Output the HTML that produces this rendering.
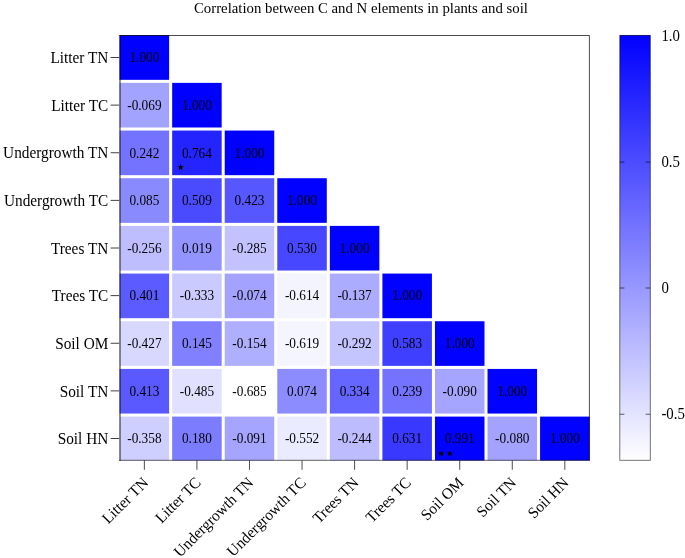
<!DOCTYPE html>
<html><head><meta charset="utf-8"><title>Correlation heatmap</title>
<style>
html,body{margin:0;padding:0;background:#fff;}
body{width:685px;height:558px;overflow:hidden;}
svg{display:block;will-change:transform;opacity:0.999;}
text{font-family:"Liberation Serif",serif;fill:#000;}
.c{font-size:14.3px;text-anchor:middle;}
.yl{font-size:15.75px;text-anchor:end;}
.xl{font-size:15.75px;text-anchor:end;}
.cb{font-size:15.7px;text-anchor:start;}
.t{font-size:15.5px;text-anchor:middle;}
</style></head><body>
<svg width="685" height="558" viewBox="0 0 685 558">
<defs><linearGradient id="g" x1="0" y1="0" x2="0" y2="1"><stop offset="0" stop-color="rgb(0,0,255)"/><stop offset="1" stop-color="rgb(255,255,255)"/></linearGradient></defs>
<rect x="0" y="0" width="685" height="558" fill="#fff"/>
<text class="t" transform="translate(360.9 12.8) scale(0.955 1)" x="0" y="0">Correlation between C and N elements in plants and soil</text>

<rect x="119.60" y="35.20" width="49.52" height="44.63" fill="rgb(0,0,255)"/>
<rect x="119.60" y="82.87" width="49.52" height="44.63" fill="rgb(162,162,255)"/>
<rect x="172.16" y="82.87" width="49.52" height="44.63" fill="rgb(0,0,255)"/>
<rect x="119.60" y="130.55" width="49.52" height="44.63" fill="rgb(115,115,255)"/>
<rect x="172.16" y="130.55" width="49.52" height="44.63" fill="rgb(36,36,255)"/>
<rect x="224.72" y="130.55" width="49.52" height="44.63" fill="rgb(0,0,255)"/>
<rect x="119.60" y="178.22" width="49.52" height="44.63" fill="rgb(138,138,255)"/>
<rect x="172.16" y="178.22" width="49.52" height="44.63" fill="rgb(74,74,255)"/>
<rect x="224.72" y="178.22" width="49.52" height="44.63" fill="rgb(87,87,255)"/>
<rect x="277.28" y="178.22" width="49.52" height="44.63" fill="rgb(0,0,255)"/>
<rect x="119.60" y="225.90" width="49.52" height="44.63" fill="rgb(190,190,255)"/>
<rect x="172.16" y="225.90" width="49.52" height="44.63" fill="rgb(148,148,255)"/>
<rect x="224.72" y="225.90" width="49.52" height="44.63" fill="rgb(194,194,255)"/>
<rect x="277.28" y="225.90" width="49.52" height="44.63" fill="rgb(71,71,255)"/>
<rect x="329.84" y="225.90" width="49.52" height="44.63" fill="rgb(0,0,255)"/>
<rect x="119.60" y="273.57" width="49.52" height="44.63" fill="rgb(91,91,255)"/>
<rect x="172.16" y="273.57" width="49.52" height="44.63" fill="rgb(202,202,255)"/>
<rect x="224.72" y="273.57" width="49.52" height="44.63" fill="rgb(163,163,255)"/>
<rect x="277.28" y="273.57" width="49.52" height="44.63" fill="rgb(244,244,255)"/>
<rect x="329.84" y="273.57" width="49.52" height="44.63" fill="rgb(172,172,255)"/>
<rect x="382.40" y="273.57" width="49.52" height="44.63" fill="rgb(0,0,255)"/>
<rect x="119.60" y="321.24" width="49.52" height="44.63" fill="rgb(216,216,255)"/>
<rect x="172.16" y="321.24" width="49.52" height="44.63" fill="rgb(129,129,255)"/>
<rect x="224.72" y="321.24" width="49.52" height="44.63" fill="rgb(175,175,255)"/>
<rect x="277.28" y="321.24" width="49.52" height="44.63" fill="rgb(245,245,255)"/>
<rect x="329.84" y="321.24" width="49.52" height="44.63" fill="rgb(196,196,255)"/>
<rect x="382.40" y="321.24" width="49.52" height="44.63" fill="rgb(63,63,255)"/>
<rect x="434.96" y="321.24" width="49.52" height="44.63" fill="rgb(0,0,255)"/>
<rect x="119.60" y="368.92" width="49.52" height="44.63" fill="rgb(89,89,255)"/>
<rect x="172.16" y="368.92" width="49.52" height="44.63" fill="rgb(225,225,255)"/>
<rect x="224.72" y="368.92" width="49.52" height="44.63" fill="rgb(255,255,255)"/>
<rect x="277.28" y="368.92" width="49.52" height="44.63" fill="rgb(140,140,255)"/>
<rect x="329.84" y="368.92" width="49.52" height="44.63" fill="rgb(101,101,255)"/>
<rect x="382.40" y="368.92" width="49.52" height="44.63" fill="rgb(115,115,255)"/>
<rect x="434.96" y="368.92" width="49.52" height="44.63" fill="rgb(165,165,255)"/>
<rect x="487.52" y="368.92" width="49.52" height="44.63" fill="rgb(0,0,255)"/>
<rect x="119.60" y="416.59" width="49.52" height="43.91" fill="rgb(206,206,255)"/>
<rect x="172.16" y="416.59" width="49.52" height="43.91" fill="rgb(124,124,255)"/>
<rect x="224.72" y="416.59" width="49.52" height="43.91" fill="rgb(165,165,255)"/>
<rect x="277.28" y="416.59" width="49.52" height="43.91" fill="rgb(235,235,255)"/>
<rect x="329.84" y="416.59" width="49.52" height="43.91" fill="rgb(188,188,255)"/>
<rect x="382.40" y="416.59" width="49.52" height="43.91" fill="rgb(56,56,255)"/>
<rect x="434.96" y="416.59" width="49.52" height="43.91" fill="rgb(1,1,255)"/>
<rect x="487.52" y="416.59" width="49.52" height="43.91" fill="rgb(163,163,255)"/>
<rect x="540.08" y="416.59" width="49.52" height="43.91" fill="rgb(0,0,255)"/>
<path d="M119.50 35.50 H589.40 V460.80" fill="none" stroke="#000" stroke-opacity="0.7" stroke-width="1"/>
<line x1="120.00" y1="35.00" x2="120.00" y2="460.80" stroke="#000" stroke-opacity="0.48" stroke-width="1.8"/>
<line x1="119.10" y1="460.30" x2="588.90" y2="460.30" stroke="#000" stroke-opacity="0.6" stroke-width="1"/>
<text class="c" transform="translate(144.36 62.30) scale(0.93 1)">1.000</text>
<text class="c" transform="translate(144.36 110.00) scale(0.93 1)">-0.069</text>
<text class="c" transform="translate(196.92 110.00) scale(0.93 1)">1.000</text>
<text class="c" transform="translate(144.36 158.00) scale(0.93 1)">0.242</text>
<text class="c" transform="translate(196.92 158.00) scale(0.93 1)">0.764</text>
<polygon points="180.60,163.90 181.42,166.27 183.93,166.32 181.93,167.83 182.66,170.23 180.60,168.80 178.54,170.23 179.27,167.83 177.27,166.32 179.78,166.27" fill="#000"/>
<text class="c" transform="translate(249.48 158.00) scale(0.93 1)">1.000</text>
<text class="c" transform="translate(144.36 205.40) scale(0.93 1)">0.085</text>
<text class="c" transform="translate(196.92 205.40) scale(0.93 1)">0.509</text>
<text class="c" transform="translate(249.48 205.40) scale(0.93 1)">0.423</text>
<text class="c" transform="translate(302.04 205.40) scale(0.93 1)">1.000</text>
<text class="c" transform="translate(144.36 253.00) scale(0.93 1)">-0.256</text>
<text class="c" transform="translate(196.92 253.00) scale(0.93 1)">0.019</text>
<text class="c" transform="translate(249.48 253.00) scale(0.93 1)">-0.285</text>
<text class="c" transform="translate(302.04 253.00) scale(0.93 1)">0.530</text>
<text class="c" transform="translate(354.60 253.00) scale(0.93 1)">1.000</text>
<text class="c" transform="translate(144.36 300.00) scale(0.93 1)">0.401</text>
<text class="c" transform="translate(196.92 300.00) scale(0.93 1)">-0.333</text>
<text class="c" transform="translate(249.48 300.00) scale(0.93 1)">-0.074</text>
<text class="c" transform="translate(302.04 300.00) scale(0.93 1)">-0.614</text>
<text class="c" transform="translate(354.60 300.00) scale(0.93 1)">-0.137</text>
<text class="c" transform="translate(407.16 300.00) scale(0.93 1)">1.000</text>
<text class="c" transform="translate(144.36 348.30) scale(0.93 1)">-0.427</text>
<text class="c" transform="translate(196.92 348.30) scale(0.93 1)">0.145</text>
<text class="c" transform="translate(249.48 348.30) scale(0.93 1)">-0.154</text>
<text class="c" transform="translate(302.04 348.30) scale(0.93 1)">-0.619</text>
<text class="c" transform="translate(354.60 348.30) scale(0.93 1)">-0.292</text>
<text class="c" transform="translate(407.16 348.30) scale(0.93 1)">0.583</text>
<text class="c" transform="translate(459.72 348.30) scale(0.93 1)">1.000</text>
<text class="c" transform="translate(144.36 396.00) scale(0.93 1)">0.413</text>
<text class="c" transform="translate(196.92 396.00) scale(0.93 1)">-0.485</text>
<text class="c" transform="translate(249.48 396.00) scale(0.93 1)">-0.685</text>
<text class="c" transform="translate(302.04 396.00) scale(0.93 1)">0.074</text>
<text class="c" transform="translate(354.60 396.00) scale(0.93 1)">0.334</text>
<text class="c" transform="translate(407.16 396.00) scale(0.93 1)">0.239</text>
<text class="c" transform="translate(459.72 396.00) scale(0.93 1)">-0.090</text>
<text class="c" transform="translate(512.28 396.00) scale(0.93 1)">1.000</text>
<text class="c" transform="translate(144.36 443.10) scale(0.93 1)">-0.358</text>
<text class="c" transform="translate(196.92 443.10) scale(0.93 1)">0.180</text>
<text class="c" transform="translate(249.48 443.10) scale(0.93 1)">-0.091</text>
<text class="c" transform="translate(302.04 443.10) scale(0.93 1)">-0.552</text>
<text class="c" transform="translate(354.60 443.10) scale(0.93 1)">-0.244</text>
<text class="c" transform="translate(407.16 443.10) scale(0.93 1)">0.631</text>
<text class="c" transform="translate(459.72 443.10) scale(0.93 1)">0.991</text>
<polygon points="441.30,450.40 442.17,452.41 444.34,452.61 442.70,454.05 443.18,456.19 441.30,455.07 439.42,456.19 439.90,454.05 438.26,452.61 440.43,452.41" fill="#000"/>
<polygon points="449.80,450.40 450.67,452.41 452.84,452.61 451.20,454.05 451.68,456.19 449.80,455.07 447.92,456.19 448.40,454.05 446.76,452.61 448.93,452.41" fill="#000"/>
<text class="c" transform="translate(512.28 443.10) scale(0.93 1)">-0.080</text>
<text class="c" transform="translate(564.84 443.10) scale(0.93 1)">1.000</text>
<line x1="110.6" y1="57.50" x2="119.20" y2="57.50" stroke="#000" stroke-opacity="0.75" stroke-width="1"/>
<text class="yl" transform="translate(108.3 63.20) scale(0.972 1)">Litter TN</text>
<line x1="110.6" y1="105.12" x2="119.20" y2="105.12" stroke="#000" stroke-opacity="0.75" stroke-width="1"/>
<text class="yl" transform="translate(108.3 110.83) scale(0.972 1)">Litter TC</text>
<line x1="110.6" y1="152.75" x2="119.20" y2="152.75" stroke="#000" stroke-opacity="0.75" stroke-width="1"/>
<text class="yl" transform="translate(108.3 158.45) scale(0.972 1)">Undergrowth TN</text>
<line x1="110.6" y1="200.38" x2="119.20" y2="200.38" stroke="#000" stroke-opacity="0.75" stroke-width="1"/>
<text class="yl" transform="translate(108.3 206.07) scale(0.972 1)">Undergrowth TC</text>
<line x1="110.6" y1="248.00" x2="119.20" y2="248.00" stroke="#000" stroke-opacity="0.75" stroke-width="1"/>
<text class="yl" transform="translate(108.3 253.70) scale(0.972 1)">Trees TN</text>
<line x1="110.6" y1="295.62" x2="119.20" y2="295.62" stroke="#000" stroke-opacity="0.75" stroke-width="1"/>
<text class="yl" transform="translate(108.3 301.32) scale(0.972 1)">Trees TC</text>
<line x1="110.6" y1="343.25" x2="119.20" y2="343.25" stroke="#000" stroke-opacity="0.75" stroke-width="1"/>
<text class="yl" transform="translate(108.3 348.95) scale(0.972 1)">Soil OM</text>
<line x1="110.6" y1="390.88" x2="119.20" y2="390.88" stroke="#000" stroke-opacity="0.75" stroke-width="1"/>
<text class="yl" transform="translate(108.3 396.57) scale(0.972 1)">Soil TN</text>
<line x1="110.6" y1="438.50" x2="119.20" y2="438.50" stroke="#000" stroke-opacity="0.75" stroke-width="1"/>
<text class="yl" transform="translate(108.3 444.20) scale(0.972 1)">Soil HN</text>
<line x1="144.36" y1="460.50" x2="144.36" y2="469.8" stroke="#000" stroke-opacity="0.7" stroke-width="1"/>
<text class="xl" transform="translate(149.21 483.60) rotate(-45) scale(0.972 1)">Litter TN</text>
<line x1="196.92" y1="460.50" x2="196.92" y2="469.8" stroke="#000" stroke-opacity="0.7" stroke-width="1"/>
<text class="xl" transform="translate(201.77 483.60) rotate(-45) scale(0.972 1)">Litter TC</text>
<line x1="249.48" y1="460.50" x2="249.48" y2="469.8" stroke="#000" stroke-opacity="0.7" stroke-width="1"/>
<text class="xl" transform="translate(254.33 483.60) rotate(-45) scale(0.972 1)">Undergrowth TN</text>
<line x1="302.04" y1="460.50" x2="302.04" y2="469.8" stroke="#000" stroke-opacity="0.7" stroke-width="1"/>
<text class="xl" transform="translate(306.89 483.60) rotate(-45) scale(0.972 1)">Undergrowth TC</text>
<line x1="354.60" y1="460.50" x2="354.60" y2="469.8" stroke="#000" stroke-opacity="0.7" stroke-width="1"/>
<text class="xl" transform="translate(359.45 483.60) rotate(-45) scale(0.972 1)">Trees TN</text>
<line x1="407.16" y1="460.50" x2="407.16" y2="469.8" stroke="#000" stroke-opacity="0.7" stroke-width="1"/>
<text class="xl" transform="translate(412.01 483.60) rotate(-45) scale(0.972 1)">Trees TC</text>
<line x1="459.72" y1="460.50" x2="459.72" y2="469.8" stroke="#000" stroke-opacity="0.7" stroke-width="1"/>
<text class="xl" transform="translate(464.57 483.60) rotate(-45) scale(0.972 1)">Soil OM</text>
<line x1="512.28" y1="460.50" x2="512.28" y2="469.8" stroke="#000" stroke-opacity="0.7" stroke-width="1"/>
<text class="xl" transform="translate(517.13 483.60) rotate(-45) scale(0.972 1)">Soil TN</text>
<line x1="564.84" y1="460.50" x2="564.84" y2="469.8" stroke="#000" stroke-opacity="0.7" stroke-width="1"/>
<text class="xl" transform="translate(569.69 483.60) rotate(-45) scale(0.972 1)">Soil HN</text>
<rect x="619.8" y="35.2" width="30.50" height="425.30" fill="url(#g)"/>
<rect x="619.8" y="35.400000000000006" width="30.50" height="424.90" fill="none" stroke="#000" stroke-opacity="0.6" stroke-width="0.9"/>
<text class="cb" transform="translate(661.4 40.50) scale(0.945 1)">1.0</text>
<line x1="619.8" y1="162.10" x2="624.4" y2="162.10" stroke="#000" stroke-opacity="0.6" stroke-width="1"/>
<line x1="645.6999999999999" y1="162.10" x2="650.3" y2="162.10" stroke="#000" stroke-opacity="0.6" stroke-width="1"/>
<text class="cb" transform="translate(661.4 167.10) scale(0.945 1)">0.5</text>
<line x1="619.8" y1="288.00" x2="624.4" y2="288.00" stroke="#000" stroke-opacity="0.6" stroke-width="1"/>
<line x1="645.6999999999999" y1="288.00" x2="650.3" y2="288.00" stroke="#000" stroke-opacity="0.6" stroke-width="1"/>
<text class="cb" transform="translate(661.4 293.20) scale(0.945 1)">0</text>
<line x1="619.8" y1="414.25" x2="624.4" y2="414.25" stroke="#000" stroke-opacity="0.6" stroke-width="1"/>
<line x1="645.6999999999999" y1="414.25" x2="650.3" y2="414.25" stroke="#000" stroke-opacity="0.6" stroke-width="1"/>
<text class="cb" transform="translate(661.4 419.40) scale(0.945 1)">-0.5</text>
</svg></body></html>
